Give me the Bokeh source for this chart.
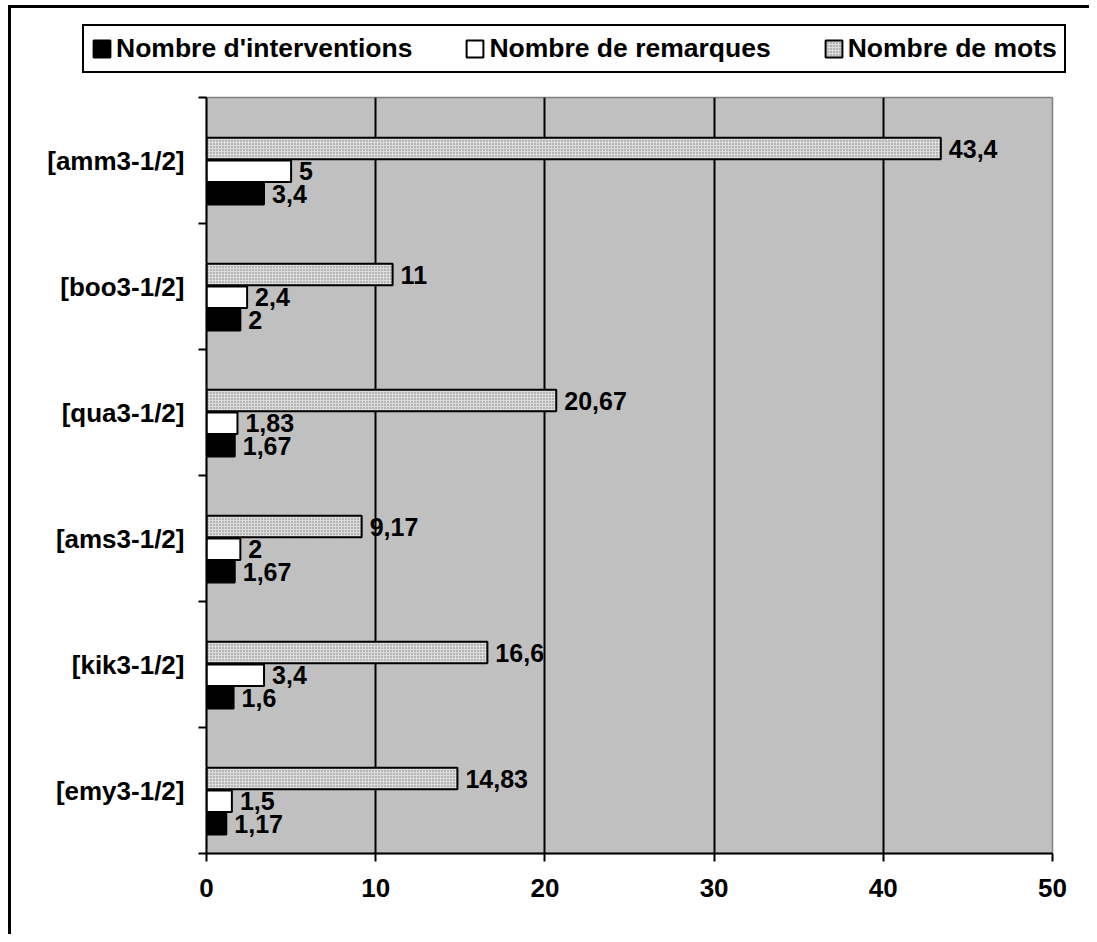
import numpy as np
from bokeh.plotting import figure
from bokeh.layouts import column
from bokeh.models import (ColumnDataSource, FixedTicker, Legend, LegendItem, Range1d)
from bokeh.embed import file_html
from bokeh.resources import INLINE

# ---- data -------------------------------------------------------------
categories = ["[amm3-1/2]", "[boo3-1/2]", "[qua3-1/2]",
              "[ams3-1/2]", "[kik3-1/2]", "[emy3-1/2]"]
interventions = [3.4, 2, 1.67, 1.67, 1.6, 1.17]
remarques = [5, 2.4, 1.83, 2, 3.4, 1.5]
mots = [43.4, 11, 20.67, 9.17, 16.6, 14.83]
x_ticks = [0, 10, 20, 30, 40, 50]
series_names = ["Nombre d'interventions", "Nombre de remarques", "Nombre de mots"]

FONT = "Liberation Sans"
n = len(categories)
ypos = np.array([n - 0.5 - i for i in range(n)])


def fmt(v):
    return f"{v:g}".replace(".", ",")


STYLE_INT = dict(fill_color="black", line_color="black", line_width=2)
STYLE_REM = dict(fill_color="white", line_color="black", line_width=2)
STYLE_MOTS = dict(fill_color="#dcdcdc", line_color="black", line_width=2,
                  hatch_pattern="dot", hatch_color="#7a7a7a", hatch_scale=3,
                  hatch_weight=1)

W = 1078
H_LEG = 80
H_MAIN = 846

# ---- main chart ---------------------------------------------------------
p = figure(width=W, height=H_MAIN, output_backend="svg", toolbar_location=None,
           title=None, x_range=Range1d(0, 50), y_range=Range1d(0, n),
           min_border_left=195, min_border_right=37,
           min_border_top=9, min_border_bottom=81)

p.background_fill_color = "#c0c0c0"
p.border_fill_color = "white"
p.outline_line_color = "#808080"
p.outline_line_width = 1.5

p.ygrid.visible = False
p.xgrid.ticker = FixedTicker(ticks=x_ticks[1:-1])
p.xgrid.grid_line_color = "black"
p.xgrid.grid_line_width = 2

xa = p.xaxis[0]
xa.ticker = FixedTicker(ticks=x_ticks)
xa.axis_line_color = "black"
xa.axis_line_width = 2
xa.major_tick_line_color = "black"
xa.major_tick_line_width = 2
xa.major_tick_in = 0
xa.major_tick_out = 8
xa.minor_tick_line_color = None
xa.major_label_text_font = FONT
xa.major_label_text_font_style = "bold"
xa.major_label_text_font_size = "26px"
xa.major_label_text_color = "black"
xa.major_label_standoff = 17

ya = p.yaxis[0]
ya.ticker = FixedTicker(ticks=list(ypos), minor_ticks=list(range(n + 1)))
ya.major_label_overrides = {float(y): c for y, c in zip(ypos, categories)}
ya.axis_line_color = "black"
ya.axis_line_width = 2
ya.major_tick_line_color = None
ya.major_tick_in = 0
ya.major_tick_out = 0
ya.minor_tick_line_color = "black"
ya.minor_tick_line_width = 2
ya.minor_tick_in = 0
ya.minor_tick_out = 8
ya.major_label_text_font = FONT
ya.major_label_text_font_style = "bold"
ya.major_label_text_font_size = "26px"
ya.major_label_text_color = "black"
ya.major_label_standoff = 14

bar_h = 0.17
offs = {"mots": 0.095, "rem": -0.085, "int": -0.265}
src = ColumnDataSource(dict(
    y=ypos, interventions=interventions, remarques=remarques, mots=mots,
    y_int=ypos + offs["int"], y_rem=ypos + offs["rem"], y_mots=ypos + offs["mots"],
    l_int=[fmt(v) for v in interventions],
    l_rem=[fmt(v) for v in remarques],
    l_mots=[fmt(v) for v in mots],
))

p.hbar(y="y_int", right="interventions", left=0, height=bar_h, source=src, **STYLE_INT)
p.hbar(y="y_rem", right="remarques", left=0, height=bar_h, source=src, **STYLE_REM)
p.hbar(y="y_mots", right="mots", left=0, height=bar_h, source=src, **STYLE_MOTS)

for ycol, xcol, lcol in [("y_int", "interventions", "l_int"),
                         ("y_rem", "remarques", "l_rem"),
                         ("y_mots", "mots", "l_mots")]:
    p.text(x=xcol, y=ycol, text=lcol, source=src, x_offset=8,
           text_baseline="middle", text_align="left",
           text_font={"value": FONT}, text_font_style="bold",
           text_font_size="25px", text_color="black")

# ---- legend strip (same series styles, renderers carry no visible data) --
lg = figure(width=W, height=H_LEG, output_backend="svg", toolbar_location=None,
            title=None, x_range=Range1d(0, 1), y_range=Range1d(0, 1),
            x_axis_type=None, y_axis_type=None,
            min_border_left=0, min_border_right=0,
            min_border_top=0, min_border_bottom=0)
lg.frame_align = False
lg.outline_line_color = None
lg.background_fill_color = "white"
lg.border_fill_color = "white"
lg.grid.visible = False
nan_src = ColumnDataSource(dict(y=[np.nan], right=[np.nan]))
g_int = lg.hbar(y="y", right="right", height=0.1, source=nan_src, **STYLE_INT)
g_rem = lg.hbar(y="y", right="right", height=0.1, source=nan_src, **STYLE_REM)
g_mots = lg.hbar(y="y", right="right", height=0.1, source=nan_src, **STYLE_MOTS)

legend = Legend(items=[LegendItem(label=series_names[0], renderers=[g_int]),
                       LegendItem(label=series_names[1], renderers=[g_rem]),
                       LegendItem(label=series_names[2], renderers=[g_mots])],
                orientation="horizontal", location=(71, 15),
                padding=7, spacing=52, margin=0,
                glyph_width=21, glyph_height=21, label_standoff=4,
                label_text_font=FONT, label_text_font_style="bold",
                label_text_font_size="26.5px", label_text_color="black",
                border_line_color="black", border_line_width=2.5,
                border_line_alpha=1,
                background_fill_color="white", background_fill_alpha=1)
lg.add_layout(legend, "center")

layout = column(lg, p, spacing=0)
layout.styles = {"border-left": "3px solid black", "border-top": "3px solid black",
                 "margin-left": "8px", "margin-top": "5px"}

open("out.html", "w").write(file_html(layout, INLINE))
